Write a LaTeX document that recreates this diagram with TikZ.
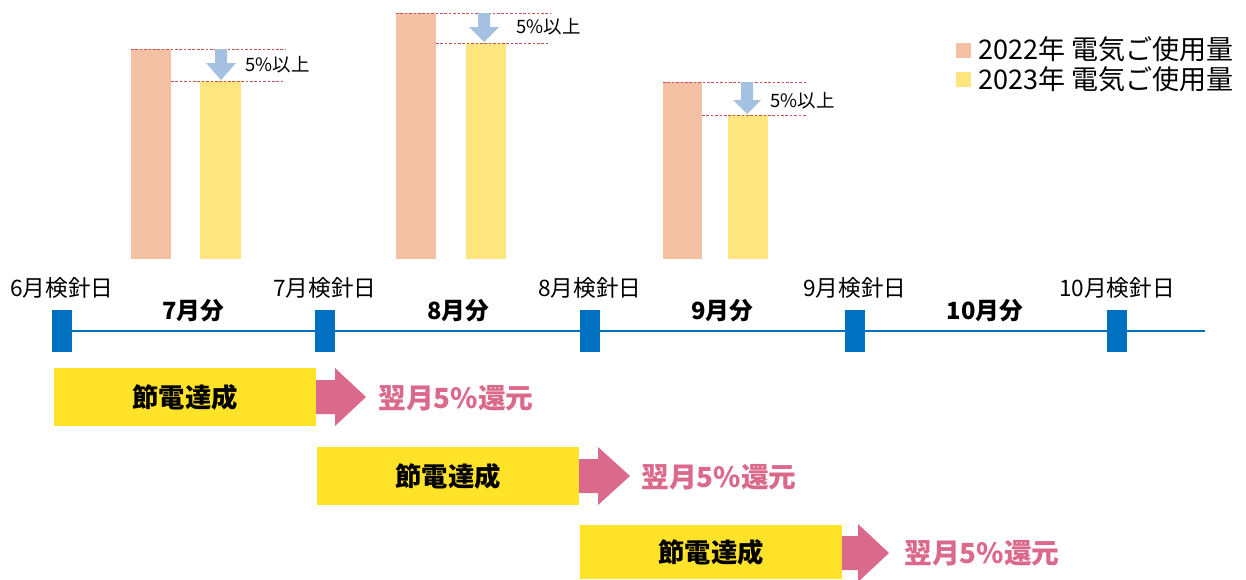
\documentclass[tikz,border=0pt]{standalone}
\usepackage{fontspec}
\newfontfamily\jpfont{Noto Sans CJK JP}
\usepackage{tikz}
\usetikzlibrary{positioning}
\definecolor{bar22}{RGB}{245,193,164}
\definecolor{bar23}{RGB}{255,229,125}
\definecolor{goalyellow}{RGB}{255,227,40}
\definecolor{backpink}{RGB}{219,105,140}
\definecolor{lineblue}{RGB}{0,112,192}
\definecolor{downblue}{RGB}{165,193,226}
\definecolor{cutred}{RGB}{200,80,80}

\begin{document}
\begin{tikzpicture}[x=0.02cm,y=-0.02cm,font=\jpfont,
                cutline/.style={cutred,dash pattern=on 1.5pt off 1pt,line width=0.5pt},
                downarrow/.style={fill=downblue},
                pctlbl/.style={anchor=west,inner sep=0,font=\jpfont\fontsize{10.5}{12}\selectfont},
                legendlbl/.style={anchor=west,inner sep=0,font=\jpfont\fontsize{15.4}{17}\selectfont},
                tick/.style={fill=lineblue,minimum width=0.4cm,minimum height=0.84cm,inner sep=0},
                datelbl/.style={inner sep=0,font=\jpfont\fontsize{12.9}{14}\selectfont},
                monthlbl/.style={inner sep=0,font=\jpfont\bfseries\fontsize{13.5}{15}\selectfont},
                goalbox/.style={fill=goalyellow,minimum width=5.24cm,minimum height=1.16cm,inner sep=0,font=\jpfont\bfseries\fontsize{15}{17}\selectfont},
                backarrow/.style={fill=backpink},
                backlbl/.style={anchor=west,inner sep=0,text=backpink,font=\jpfont\bfseries\fontsize{15.8}{17}\selectfont}]
                \useasboundingbox (0,0) rectangle (1246,579);
                \fill[bar22] (131,49) rectangle (171,259);
                \fill[bar23] (200,81) rectangle (241,259);
                \draw[cutline] (131,49) -- (285,49);
                \draw[cutline] (171,81) -- (285,81);
                \fill[downarrow] (215,49) -- (227,49) -- (227,63) -- (236,63) -- (221,80) -- (206,63) -- (215,63) -- cycle;
                \node[pctlbl] (pct7) at (245,65) {5\%以上};
                \fill[bar22] (396,13) rectangle (436,259);
                \fill[bar23] (466,43) rectangle (506,259);
                \draw[cutline] (396,13) -- (550,13);
                \draw[cutline] (436,43) -- (550,43);
                \fill[downarrow] (478,13) -- (490,13) -- (490,27) -- (499,27) -- (484,42) -- (469,27) -- (478,27) -- cycle;
                \node[pctlbl] (pct8) at (516,27) {5\%以上};
                \fill[bar22] (663,82) rectangle (702,259);
                \fill[bar23] (728,115) rectangle (768,259);
                \draw[cutline] (663,82) -- (807,82);
                \draw[cutline] (702,115) -- (807,115);
                \fill[downarrow] (741,82) -- (753,82) -- (753,100) -- (761,100) -- (747,114) -- (733,100) -- (741,100) -- cycle;
                \node[pctlbl] (pct9) at (770,101) {5\%以上};
                \fill[bar22] (956,43) rectangle (971,58);
                \node[legendlbl] (leg22) at (978,49) {2022年 電気ご使用量};
                \fill[bar23] (956,72) rectangle (971,87);
                \node[legendlbl] (leg23) at (978,79) {2023年 電気ご使用量};
                \node[tick] (t6) at (62,331) {};
                \node[tick] (t7) at (325,331) {};
                \node[tick] (t8) at (590,331) {};
                \node[tick] (t9) at (855,331) {};
                \node[tick] (t10) at (1117,331) {};
                \coordinate (tend) at (1205,331);
                \draw[lineblue,line width=1.3pt] (t6.center) -- (tend);
                \node[tick] at (t6) {};
                \node[tick] at (t7) {};
                \node[tick] at (t8) {};
                \node[tick] at (t9) {};
                \node[tick] at (t10) {};
                \node[datelbl] (d6) at (62,288) {6月検針日};
                \node[datelbl] (d7) at (325,288) {7月検針日};
                \node[datelbl] (d8) at (590,288) {8月検針日};
                \node[datelbl] (d9) at (855,288) {9月検針日};
                \node[datelbl] (d10) at (1117,288) {10月検針日};
                \node[monthlbl] (m7) at (193,311) {7月分};
                \node[monthlbl] (m8) at (458,311) {8月分};
                \node[monthlbl] (m9) at (722,311) {9月分};
                \node[monthlbl] (m10) at (985,311) {10月分};
                \node[goalbox] (goal7) at (185,397) {節電達成};
                \fill[backarrow] (316,380) -- (335,380) -- (335,368) -- (366,397) -- (335,426) -- (335,414) -- (316,414) -- cycle;
                \node[backlbl] (back7) at (378,398) {翌月5\%還元};
                \node[goalbox] (goal8) at (448,476) {節電達成};
                \fill[backarrow] (579,459) -- (598,459) -- (598,447) -- (630,476) -- (598,505) -- (598,493) -- (579,493) -- cycle;
                \node[backlbl] (back8) at (641,477) {翌月5\%還元};
                \node[goalbox,minimum height=1.08cm] (goal9) at (711,552) {節電達成};
                \fill[backarrow] (842,536) -- (858,536) -- (858,524) -- (889,553) -- (858,582) -- (858,570) -- (842,570) -- cycle;
                \node[backlbl] (back9) at (904,553) {翌月5\%還元};
            \end{tikzpicture}
\end{document}
